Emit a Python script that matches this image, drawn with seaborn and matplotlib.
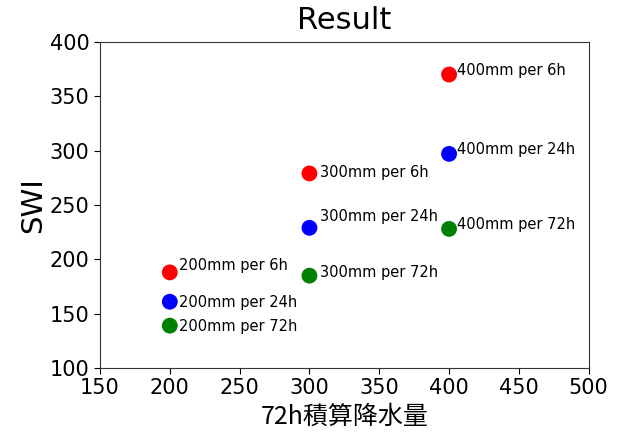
import matplotlib
matplotlib.use("Agg")
import matplotlib.pyplot as plt
import seaborn as sns
import pandas as pd

rain = [200, 300, 400]
swi_6h = [188, 279, 370]
swi_24h = [161, 229, 297]
swi_72h = [139, 185, 228]
series = ["6h", "24h", "72h"]
colors = ["red", "blue", "green"]
# label offsets (pixels) per series/point
offsets = {
    "6h": [(9, 2), (11, -4), (8, 0)],
    "24h": [(9, -5), (11, 7), (8, 0)],
    "72h": [(9, -5), (11, -1), (8, 0)],
}

rows = []
for s, vals in zip(series, [swi_6h, swi_24h, swi_72h]):
    for r, v in zip(rain, vals):
        rows.append({"rain": r, "SWI": v, "series": s,
                     "label": f"{r}mm per {s}"})
df = pd.DataFrame(rows)

plt.rcParams['font.family'] = ['DejaVu Sans']
fig = plt.figure(figsize=(6.21, 4.32), dpi=100)
ax = fig.add_axes([0.161, 0.148, 0.787, 0.755])
sns.scatterplot(data=df, x="rain", y="SWI", hue="series", palette=colors,
                s=130, edgecolor="none", legend=False, ax=ax)

for s in series:
    sub = df[df.series == s]
    for (i, row), off in zip(sub.iterrows(), offsets[s]):
        ax.annotate(row["label"], (row["rain"], row["SWI"]), xytext=off,
                    textcoords="offset pixels", fontsize=10.5,
                    ha="left", va="baseline")

ax.set_xlim(150, 500)
ax.set_ylim(100, 400)
ax.set_xticks(range(150, 501, 50))
ax.set_yticks(range(100, 401, 50))
ax.tick_params(labelsize=15, length=4)
ax.set_title("Result", fontsize=22, pad=9)
ax.set_ylabel("SWI", fontsize=21, labelpad=2)
ax.set_xlabel("72h積算降水量", fontsize=18, family=["Noto Sans CJK JP", "DejaVu Sans"])
for sp in ax.spines.values():
    sp.set_color("#333333")

fig.savefig("out.png", dpi=100)
